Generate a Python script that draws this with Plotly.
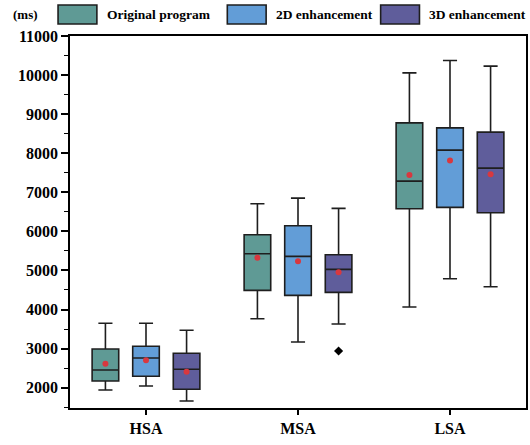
import plotly.graph_objects as go

categories = ["HSA", "MSA", "LSA"]
series_names = ["Original program", "2D enhancement", "3D enhancement"]
colors = ["#5F9A95", "#629DD7", "#5F5D9B"]

# per series: values for HSA, MSA, LSA
upper = [[3647, 6706, 10056], [3647, 6852, 10373], [3468, 6588, 10228]]
q3 = [[2990, 5913, 8777], [3059, 6143, 8650], [2880, 5402, 8540]]
median = [[2453, 5427, 7286], [2760, 5361, 8079], [2470, 5028, 7619]]
q1 = [[2171, 4491, 6578], [2291, 4363, 6614], [1959, 4440, 6476]]
lower = [[1941, 3765, 4064], [2043, 3169, 4788], [1660, 3629, 4583]]
means = [[2614, 5325, 7440], [2700, 5233, 7816], [2409, 4951, 7465]]
# outliers: (series index, category index, value)
outliers = [(2, 1, 2939)]

yticks = list(range(2000, 11001, 1000))

offsets = [-0.267, 0.0, 0.267]
box_w = 0.175

fig = go.Figure()
for s in range(3):
    xs = [i + offsets[s] for i in range(len(categories))]
    fig.add_trace(go.Box(
        x=xs, q1=q1[s], median=median[s], q3=q3[s],
        lowerfence=lower[s], upperfence=upper[s],
        width=box_w, whiskerwidth=0.53,
        fillcolor=colors[s], line=dict(color="#1e1e1e", width=1.6),
        name=series_names[s], showlegend=False, boxpoints=False,
        hoverinfo="skip",
    ))
    fig.add_trace(go.Scatter(
        x=xs, y=means[s], mode="markers",
        marker=dict(color="#D8383F", size=6), showlegend=False, hoverinfo="skip",
    ))

for s, c, v in outliers:
    fig.add_trace(go.Scatter(
        x=[c + offsets[s]], y=[v], mode="markers",
        marker=dict(color="black", size=7, symbol="diamond"),
        showlegend=False, hoverinfo="skip",
    ))

# custom legend (pixel -> paper conversion)
L, R, T, B = 70, 528, 36, 408
W, H = 530, 445
def px(x):
    return (x - L) / (R - L)
def py(y):
    return (B - y) / (B - T)

legend_x = [58, 228, 382]
rect_w, rect_top, rect_bot = 39, 5, 24
for s in range(3):
    fig.add_shape(type="rect", xref="paper", yref="paper",
                  x0=px(legend_x[s]), x1=px(legend_x[s] + rect_w),
                  y0=py(rect_bot), y1=py(rect_top),
                  fillcolor=colors[s], line=dict(color="#1e1e1e", width=1.6))
    fig.add_annotation(xref="paper", yref="paper", x=px(legend_x[s] + rect_w + 8),
                       y=py(14.5), text=series_names[s], showarrow=False,
                       xanchor="left", yanchor="middle",
                       font=dict(family="Liberation Serif", size=13.5, color="black", weight="bold"))
fig.add_annotation(xref="paper", yref="paper", x=px(11), y=py(14.5), text="(ms)",
                   showarrow=False, xanchor="left", yanchor="middle",
                   font=dict(family="Liberation Serif", size=13, color="black", weight="bold"))

fig.update_layout(
    width=W, height=H,
    margin=dict(l=L, r=W - R, t=T, b=H - B),
    plot_bgcolor="white", paper_bgcolor="white",
    showlegend=False,
    font=dict(family="Liberation Serif", color="black"),
)
fig.update_xaxes(
    range=[-0.5, 2.5], tickvals=list(range(len(categories))), ticktext=categories,
    ticks="outside", ticklen=5, tickwidth=1.5, tickcolor="black",
    showline=True, linecolor="black", linewidth=1.5, mirror=True,
    showgrid=False, zeroline=False,
    tickfont=dict(family="Liberation Serif", size=16, color="black", weight="bold"),
)
fig.update_yaxes(
    range=[1480, 11000], tickvals=yticks, ticktext=[str(v) for v in yticks],
    ticks="outside", ticklen=7, tickwidth=1.5, tickcolor="black",
    minor=dict(tickvals=[v + 500 for v in yticks[:-1]] + [1500], ticks="outside",
               ticklen=4, tickwidth=1.2, tickcolor="black"),
    showline=True, linecolor="black", linewidth=1.5, mirror=True,
    showgrid=False, zeroline=False,
    tickfont=dict(family="Liberation Serif", size=16, color="black", weight="bold"),
)

fig.write_html("out.html", config={"displayModeBar": False},
               post_script="document.body.style.margin='0';document.body.style.padding='0';window.dispatchEvent(new Event('resize'));")
